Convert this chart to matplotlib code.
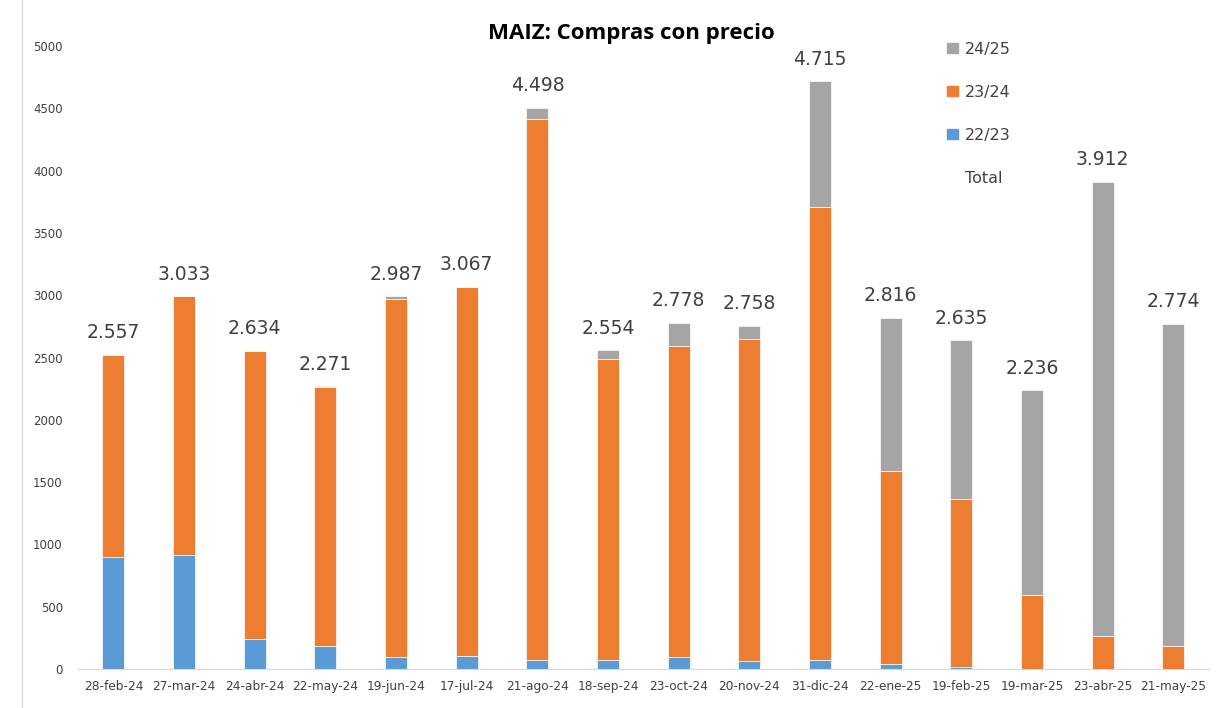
import numpy as np
import matplotlib.pyplot as plt
from matplotlib.patches import Patch
from matplotlib.lines import Line2D

plt.rcParams['font.family'] = ['DejaVu Sans']

fechas = ['28-feb-24', '27-mar-24', '24-abr-24', '22-may-24', '19-jun-24', '17-jul-24',
          '21-ago-24', '18-sep-24', '23-oct-24', '20-nov-24', '31-dic-24', '22-ene-25',
          '19-feb-25', '19-mar-25', '23-abr-25', '21-may-25']
c2223 = [900, 915, 240, 186, 100, 107, 73, 70, 100, 63, 70, 40, 20, 0, 0, 0]
c2324 = [1623, 2075, 2313, 2078, 2870, 2956, 4345, 2417, 2493, 2587, 3638, 1551, 1342, 593, 263, 183]
c2425 = [0, 0, 0, 5, 20, 5, 83, 70, 183, 106, 1009, 1225, 1275, 1644, 3649, 2590]
totales = ['2.557', '3.033', '2.634', '2.271', '2.987', '3.067', '4.498', '2.554',
           '2.778', '2.758', '4.715', '2.816', '2.635', '2.236', '3.912', '2.774']

azul = '#5B9BD5'
naranja = '#ED7D31'
gris = '#A5A5A5'
texto = '#404040'

fig = plt.figure(figsize=(12.29, 7.08), dpi=100)
ax = fig.add_axes([0.0635, 0.055, 0.920, 0.880])

x = np.arange(len(fechas))
a = np.array(c2223)
b = np.array(c2324)
c = np.array(c2425)
w = 0.31
ax.bar(x, a, w, color=azul, edgecolor='white', linewidth=0.5)
ax.bar(x, b, w, bottom=a, color=naranja, edgecolor='white', linewidth=0.5)
ax.bar(x, c, w, bottom=a + b, color=gris, edgecolor='white', linewidth=0.5)

# etiquetas del total
for i, t in enumerate(totales):
    ax.annotate(t, (x[i], a[i] + b[i] + c[i]), xytext=(0, 16), textcoords='offset points',
                ha='center', va='center', fontsize=13.5, color=texto)

ax.set_xlim(-0.5, 15.5)
ax.set_ylim(0, 5000)
ax.set_yticks(range(0, 5001, 500))
ax.set_xticks(x)
ax.set_xticklabels(fechas)
ax.tick_params(axis='x', length=0, labelsize=8.7, colors=texto, pad=8)
ax.tick_params(axis='y', length=0, labelsize=8.5, colors=texto, pad=11)
for s in ['top', 'right', 'left']:
    ax.spines[s].set_visible(False)
ax.spines['bottom'].set_color('#D9D9D9')

fig.text(0.514, 0.953, 'MAIZ: Compras con precio', ha='center', va='center',
         fontsize=16, fontweight='bold', color='black', family='Open Sans')

handles = [Patch(color=gris), Patch(color=naranja), Patch(color=azul),
           Line2D([], [], linestyle='none')]
ax.legend(handles, ['24/25', '23/24', '22/23', 'Total'], loc='upper left',
          bbox_to_anchor=(0.756, 1.03), frameon=False, fontsize=11.5,
          handlelength=0.65, handleheight=0.65, handletextpad=0.45, labelspacing=1.75,
          labelcolor=texto)

# borde izquierdo del gráfico
fig.add_artist(Line2D([0.018, 0.018], [0, 1], color='#D9D9D9', linewidth=1))

fig.savefig('out.png', dpi=100)
